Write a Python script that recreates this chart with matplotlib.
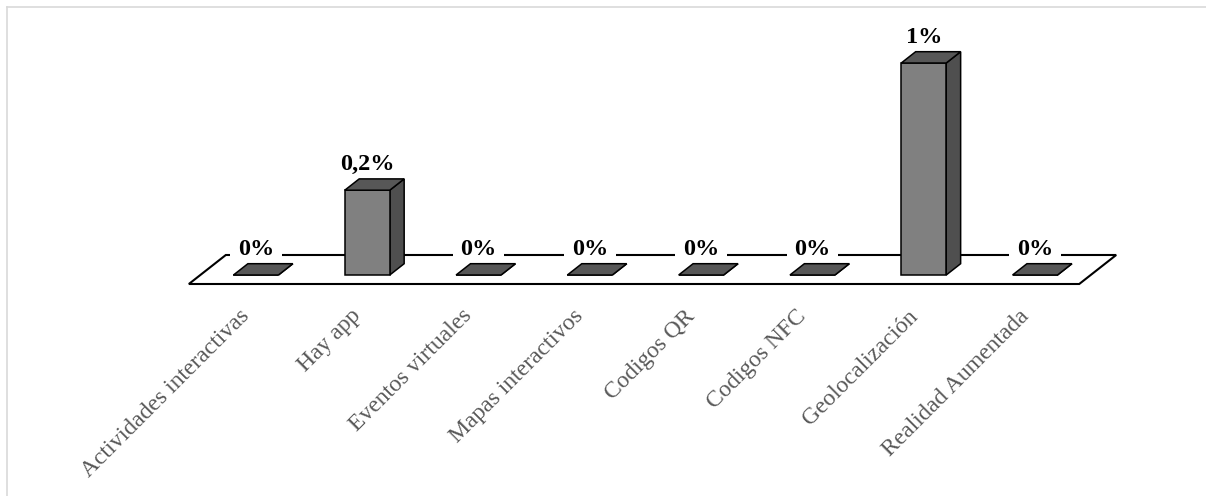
import matplotlib
matplotlib.use("Agg")
import matplotlib.pyplot as plt
from matplotlib.patches import Polygon
from matplotlib.lines import Line2D

# Data
categories = [
    "Actividades interactivas",
    "Hay app",
    "Eventos virtuales",
    "Mapas interactivos",
    "Codigos QR",
    "Codigos NFC",
    "Geolocalización",
    "Realidad Aumentada",
]
values = [0.0, 0.2, 0.0, 0.0, 0.0, 0.0, 0.5, 0.0]   # percent
value_labels = ["0%", "0,2%", "0%", "0%", "0%", "0%", "1%", "0%"]

# Oblique projection of the 3-D floor: a point (x, v, d) with depth d in [0, 1]
DEPTH_X = 0.332     # shift along the category axis for full depth
DEPTH_Y = 0.0684    # shift along the value axis for full depth
BAR_W = 0.404
BAR_D0, BAR_D1 = 0.31, 0.70

FRONT = "#808080"
SIDE = "#4f4f4f"
TOP = "#575757"
SERIF = ["Liberation Serif", "DejaVu Serif"]


def proj(x, v, d):
    return (x + d * DEPTH_X, v + d * DEPTH_Y)


fig = plt.figure(figsize=(12.06, 4.96), dpi=100)
ax = fig.add_axes([0, 0, 1, 1])
ax.set_xlim(-2.197, 8.639)
ax.set_ylim(-0.5, 0.6698)
ax.axis("off")

# chart area border (top and left edges visible)
fig.add_artist(Line2D([7 / 1206, 1.0], [1 - 7 / 496, 1 - 7 / 496],
                      transform=fig.transFigure, color="#d9d9d9", lw=1.2))
fig.add_artist(Line2D([7 / 1206, 7 / 1206], [1 - 7 / 496, 0.0],
                      transform=fig.transFigure, color="#d9d9d9", lw=1.2))

# floor
n = len(categories)
x_lo, x_hi = -0.5, n - 0.5
floor = Polygon([proj(x_lo, 0, 0), proj(x_hi, 0, 0), proj(x_hi, 0, 1), proj(x_lo, 0, 1)],
                closed=True, facecolor="white", edgecolor="black", lw=1.5, zorder=1)
ax.add_patch(floor)

# bars
for i, v in enumerate(values):
    xl, xr = i - BAR_W / 2, i + BAR_W / 2
    front = [proj(xl, 0, BAR_D0), proj(xr, 0, BAR_D0), proj(xr, v, BAR_D0), proj(xl, v, BAR_D0)]
    side = [proj(xr, 0, BAR_D0), proj(xr, 0, BAR_D1), proj(xr, v, BAR_D1), proj(xr, v, BAR_D0)]
    top = [proj(xl, v, BAR_D0), proj(xr, v, BAR_D0), proj(xr, v, BAR_D1), proj(xl, v, BAR_D1)]
    for pts, col in ((side, SIDE), (front, FRONT), (top, TOP)):
        ax.add_patch(Polygon(pts, closed=True, facecolor=col, edgecolor="black",
                             lw=1.1, joinstyle="miter", zorder=4))

    # value label above the back edge of the bar top
    lx, ly = proj(i, v, BAR_D1)
    ax.annotate(value_labels[i], xy=(i + BAR_D0 * DEPTH_X, ly), xytext=(0, 14.5),
                textcoords="offset pixels", ha="center", va="center",
                fontsize=17.5, fontweight="bold", family=SERIF, color="black",
                bbox=dict(boxstyle="square,pad=0.32", facecolor="white", edgecolor="none"),
                zorder=3)

    # category label below the front edge of the floor
    ax.annotate(categories[i], xy=proj(i, 0, 0), xytext=(2, -29),
                textcoords="offset pixels", ha="right", va="center",
                rotation=45, rotation_mode="anchor",
                fontsize=17, family=SERIF, color="#595959", zorder=5)

fig.savefig("out.png", dpi=100, facecolor="white")
